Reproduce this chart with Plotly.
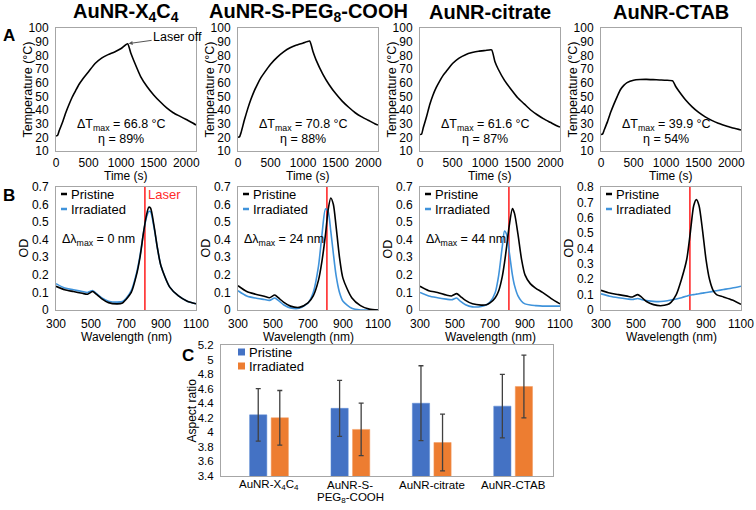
import plotly.graph_objects as go

W, H = 756, 510
FONT = "Liberation Sans, Arial, sans-serif"

# ---------------- data ----------------
panel_titles = ["AuNR-X<sub>4</sub>C<sub>4</sub>", "AuNR-S-PEG<sub>8</sub>-COOH", "AuNR-citrate", "AuNR-CTAB"]
dT_values = ["66.8", "70.8", "61.6", "39.9"]
eta_values = ["89%", "88%", "87%", "54%"]
dlambda_values = ["0", "24", "44", None]
LASER_NM = 808
LASER_OFF_T = 1100

time_s = [0, 25, 50, 100, 150, 200, 250, 300, 350, 400, 500, 600, 700, 800, 900, 1000, 1100,
          1150, 1200, 1300, 1400, 1500, 1600, 1700, 1800, 1900, 2000, 2100, 2150]
temp_x4c4 = [21, 21.5, 25, 31, 38, 44, 49.5, 54, 58.5, 62, 68, 74, 78, 80.5, 82.5, 85, 88.5,
             81.5, 75.5, 64.5, 57, 51, 46, 41.5, 38, 35.5, 33, 30.5, 29]
temp_peg = [20, 20.5, 24, 33, 41, 48, 54, 59, 63.5, 67, 73.5, 78.5, 82.5, 85.5, 87.5, 89, 90.5,
            83, 76.5, 66.5, 58.5, 52, 46.5, 42, 38, 35, 32.5, 30, 29]
temp_citrate = [22, 22.5, 27, 35, 44, 51, 56.5, 61, 65, 68, 74, 78, 80.5, 82, 83, 83.5, 84,
                75.5, 70, 61.5, 55, 49, 44.5, 40, 36.5, 33.5, 31, 28.5, 27.5]
temp_ctab = [22, 22.5, 25.5, 31.5, 38.5, 44.5, 50, 55, 58, 60, 61.8, 62.3, 62.4, 62.2, 62, 61.8, 61.3,
             57, 53.5, 47.3, 42.3, 38.2, 35, 32.4, 30.3, 28.7, 27.2, 26, 25.4]
temps = [temp_x4c4, temp_peg, temp_citrate, temp_ctab]

wl_x4c4 = [300, 350, 400, 450, 480, 510, 530, 560, 600, 650, 680, 700, 730, 760, 780, 800, 815, 830, 840,
           860, 880, 900, 950, 1000, 1050, 1100]
od_x4c4_pristine = [0.135, 0.115, 0.105, 0.095, 0.09, 0.105, 0.09, 0.065, 0.042, 0.035, 0.04, 0.06, 0.1,
                    0.2, 0.3, 0.44, 0.53, 0.585, 0.58, 0.48, 0.35, 0.25, 0.13, 0.08, 0.05, 0.035]
od_x4c4_irr = [0.15, 0.125, 0.115, 0.105, 0.1, 0.11, 0.095, 0.07, 0.05, 0.045, 0.048, 0.065, 0.11,
               0.21, 0.31, 0.44, 0.52, 0.56, 0.56, 0.47, 0.35, 0.25, 0.13, 0.08, 0.05, 0.035]

wl_peg = [300, 350, 400, 450, 480, 510, 530, 560, 600, 650, 700, 730, 760, 780, 800, 815, 830, 845, 860,
          880, 900, 950, 1000, 1050, 1100]
od_peg_pristine = [0.138, 0.105, 0.09, 0.078, 0.07, 0.085, 0.07, 0.045, 0.022, 0.015, 0.04, 0.08, 0.17,
                   0.28, 0.43, 0.57, 0.637, 0.6, 0.48, 0.3, 0.18, 0.07, 0.025, 0.005, 0.0]
od_peg_irr = [0.11, 0.08, 0.068, 0.06, 0.055, 0.068, 0.055, 0.03, 0.012, 0.01, 0.04, 0.1, 0.25, 0.43,
              0.575, 0.56, 0.45, 0.32, 0.2, 0.1, 0.05, 0.01, 0.0, 0.0, 0.0]

wl_cit = [300, 350, 400, 450, 480, 510, 530, 560, 600, 650, 680, 700, 730, 750, 770, 783, 795, 810, 828,
          840, 860, 880, 900, 930, 960, 1000, 1050, 1100]
od_cit_pristine = [0.135, 0.11, 0.1, 0.085, 0.08, 0.093, 0.078, 0.055, 0.035, 0.028, 0.03, 0.04, 0.07,
                   0.11, 0.19, 0.27, 0.36, 0.48, 0.577, 0.55, 0.43, 0.29, 0.2, 0.15, 0.125, 0.1, 0.065, 0.035]
od_cit_irr = [0.1, 0.08, 0.07, 0.062, 0.058, 0.068, 0.05, 0.03, 0.018, 0.02, 0.03, 0.045, 0.1, 0.2,
              0.36, 0.45, 0.43, 0.33, 0.2, 0.14, 0.08, 0.05, 0.035, 0.028, 0.025, 0.022, 0.022, 0.022]

wl_ctab = [300, 350, 400, 450, 480, 510, 530, 560, 600, 640, 680, 700, 730, 760, 790, 810, 830, 845, 860,
           880, 900, 920, 940, 960, 1000, 1050, 1100]
od_ctab_pristine = [0.128, 0.11, 0.1, 0.09, 0.085, 0.1, 0.085, 0.055, 0.035, 0.028, 0.035, 0.05, 0.1,
                    0.2, 0.33, 0.5, 0.68, 0.718, 0.68, 0.52, 0.33, 0.2, 0.13, 0.1, 0.085, 0.065, 0.037]
od_ctab_irr = [0.105, 0.09, 0.08, 0.072, 0.068, 0.075, 0.068, 0.062, 0.056, 0.055, 0.06, 0.065, 0.072,
               0.08, 0.09, 0.097, 0.1, 0.103, 0.106, 0.11, 0.114, 0.117, 0.121, 0.125, 0.133, 0.143, 0.155]

spectra = [
    (wl_x4c4, od_x4c4_pristine, od_x4c4_irr),
    (wl_peg, od_peg_pristine, od_peg_irr),
    (wl_cit, od_cit_pristine, od_cit_irr),
    (wl_ctab, od_ctab_pristine, od_ctab_irr),
]
od_max = [0.7, 0.7, 0.7, 0.8]

categories = ["AuNR-X4C4", "AuNR-S-PEG8-COOH", "AuNR-citrate", "AuNR-CTAB"]
category_labels = [["AuNR-X<sub>4</sub>C<sub>4</sub>"], ["AuNR-S-", "PEG<sub>8</sub>-COOH"],
                   ["AuNR-citrate"], ["AuNR-CTAB"]]
ar_pristine = [4.24, 4.33, 4.40, 4.36]
ar_pristine_err = [0.36, 0.385, 0.515, 0.435]
ar_irradiated = [4.20, 4.04, 3.86, 4.63]
ar_irradiated_err = [0.375, 0.36, 0.39, 0.43]
ar_ticks = [3.4, 3.6, 3.8, 4, 4.2, 4.4, 4.6, 4.8, 5, 5.2]
ar_ticktext = ["3.4", "3.6", "3.8", "4", "4.2", "4.4", "4.6", "4.8", "5", "5.2"]

# ---------------- styles ----------------
BLACK = "#000000"
BLUE_LINE = "#3F93DB"
RED = "#FF2A2A"
BAR_BLUE = "#4472C4"
BAR_ORANGE = "#ED7D31"
BOX = "#A6A6A6"


def px(x):
    return x / W


def py(y):
    return 1 - y / H


panel_left = [56, 238, 420, 601]
panel_w = 140
A_top, A_bot = 28, 151
B_top, B_bot = 187, 310
C_left, C_right, C_top, C_bot = 221, 553, 345, 476

fig = go.Figure()
layout = dict(
    width=W, height=H, margin=dict(l=0, r=0, t=0, b=0, autoexpand=False),
    paper_bgcolor="white", plot_bgcolor="white",
    showlegend=False,
    font=dict(family=FONT, size=12, color="#000000"),
    barmode="group", bargap=0.47, bargroupgap=0.2,
)
annotations = []
shapes = []


def ann(**kw):
    d = dict(showarrow=False, xanchor="center", yanchor="middle")
    d.update(kw)
    annotations.append(d)


def axis_common(size=12):
    return dict(showline=True, mirror=True, linecolor=BOX, linewidth=1, showgrid=False,
                zeroline=False, ticks="", tickfont=dict(family=FONT, size=size, color="#000"))


for i in range(4):
    l = panel_left[i]
    # ---- A panels ----
    ax_id = i + 1
    xa = axis_common()
    xa.update(domain=[px(l), px(l + panel_w)], range=[0, 2150], tickvals=[0, 500, 1000, 1500, 2000],
              anchor=f"y{ax_id}", ticklabelstandoff=1)
    ya = axis_common()
    ya.update(domain=[py(A_bot), py(A_top)], range=[10, 100], tickvals=list(range(10, 101, 10)),
              anchor=f"x{ax_id}", ticklabelstandoff=4)
    layout[f"xaxis{ax_id}" if ax_id > 1 else "xaxis"] = xa
    layout[f"yaxis{ax_id}" if ax_id > 1 else "yaxis"] = ya
    xr = f"x{ax_id}" if ax_id > 1 else "x"
    yr = f"y{ax_id}" if ax_id > 1 else "y"
    fig.add_trace(go.Scatter(x=time_s, y=temps[i], mode="lines", xaxis=xr, yaxis=yr,
                             line=dict(color=BLACK, width=1.6, shape="spline", smoothing=0.5)))
    ann(x=1000, y=28.8, xref=xr, yref=yr, text=f"ΔT<sub>max</sub> = {dT_values[i]} °C",
        font=dict(size=12.5, color="#000"))
    ann(x=1000, y=19, xref=xr, yref=yr, text=f"η = {eta_values[i]}", font=dict(size=12.5, color="#000"))
    # panel title
    ann(x=px(l + panel_w / 2), y=py(12), xref="paper", yref="paper",
        text=f"<b>{panel_titles[i]}</b>", font=dict(size=20, color="#000"))
    # axis titles
    ann(x=px(l + panel_w / 2), y=py(176), xref="paper", yref="paper", text="Time (s)",
        font=dict(size=12, color="#000"))
    ann(x=px(l - 29), y=py((A_top + A_bot) / 2), xref="paper", yref="paper", textangle=-90,
        text="Temperature (°C)", font=dict(size=12.5, color="#000"))

    # ---- B panels ----
    bx_id = i + 5
    xb = axis_common()
    xb.update(domain=[px(l), px(l + panel_w)], range=[300, 1100], tickvals=[300, 500, 700, 900, 1100],
              anchor=f"y{bx_id}", ticklabelstandoff=3)
    yb = axis_common()
    ymax = od_max[i]
    yb.update(domain=[py(B_bot), py(B_top)], range=[0, ymax],
              tickvals=[round(v * 0.1, 1) for v in range(0, int(round(ymax * 10)) + 1)],
              ticktext=["0"] + [f"{v * 0.1:.1f}" for v in range(1, int(round(ymax * 10)) + 1)],
              anchor=f"x{bx_id}", ticklabelstandoff=4)
    layout[f"xaxis{bx_id}"] = xb
    layout[f"yaxis{bx_id}"] = yb
    xr = f"x{bx_id}"
    yr = f"y{bx_id}"
    wl, odp, odi = spectra[i]
    fig.add_trace(go.Scatter(x=[LASER_NM, LASER_NM], y=[0, ymax], mode="lines", xaxis=xr, yaxis=yr,
                             line=dict(color=RED, width=1.6)))
    fig.add_trace(go.Scatter(x=wl, y=odi, mode="lines", xaxis=xr, yaxis=yr,
                             line=dict(color=BLUE_LINE, width=1.6, shape="spline", smoothing=0.7)))
    fig.add_trace(go.Scatter(x=wl, y=odp, mode="lines", xaxis=xr, yaxis=yr,
                             line=dict(color=BLACK, width=1.6, shape="spline", smoothing=0.7)))
    # legend (manual)
    for lab, col, yy in [("Pristine", BLACK, 194), ("Irradiated", BLUE_LINE, 209)]:
        shapes.append(dict(type="line", xref="paper", yref="paper", x0=px(l + 5), x1=px(l + 11),
                           y0=py(yy), y1=py(yy), line=dict(color=col, width=2.5)))
        ann(x=px(l + 13), y=py(yy), xref="paper", yref="paper", xanchor="left", text=lab,
            font=dict(size=13, color="#000"))
    if dlambda_values[i] is not None:
        ann(x=px(l + 4), y=0.4, xref="paper", yref=yr, xanchor="left",
            text=f"Δλ<sub>max</sub> = {dlambda_values[i]} nm", font=dict(size=12.5, color="#000"))
    ann(x=px(l + panel_w / 2), y=py(337), xref="paper", yref="paper", text="Wavelength (nm)",
        font=dict(size=12, color="#000"))
    ann(x=px(l - 33), y=py((B_top + B_bot) / 2), xref="paper", yref="paper", textangle=-90,
        text="OD", font=dict(size=12.5, color="#000"))

# Laser off arrow (panel A1)
annotations.append(dict(x=LASER_OFF_T, y=temp_x4c4[time_s.index(LASER_OFF_T)], xref="x", yref="y",
                        text="Laser off", showarrow=True, arrowhead=2, arrowsize=0.8, arrowwidth=1,
                        arrowcolor="#555", ax=50, ay=-7, font=dict(size=12.5, color="#000"),
                        standoff=1))
# Laser label (panel B1)
ann(x=LASER_NM, y=0.66, xref="x5", yref="y5", xanchor="left", text="Laser",
    font=dict(size=13, color=RED), xshift=1)

# ---- C panel ----
xc = axis_common()
xc.update(domain=[px(C_left), px(C_right)], type="category", range=[-0.59, 3.49], anchor="y9",
          showticklabels=False)
yc = axis_common(11.5)
yc.update(domain=[py(C_bot), py(C_top)], range=[3.4, 5.2], tickvals=ar_ticks, ticktext=ar_ticktext,
          anchor="x9", ticklabelstandoff=4)
layout["xaxis9"] = xc
layout["yaxis9"] = yc
fig.add_trace(go.Bar(x=categories, y=ar_pristine, xaxis="x9", yaxis="y9", marker_color=BAR_BLUE,
                     marker_line=dict(color="#5B8BD6", width=0.5),
                     error_y=dict(type="data", array=ar_pristine_err, color="#404040", thickness=1.3, width=2.5)))
fig.add_trace(go.Bar(x=categories, y=ar_irradiated, xaxis="x9", yaxis="y9", marker_color=BAR_ORANGE,
                     marker_line=dict(color="#F29B5F", width=0.5),
                     error_y=dict(type="data", array=ar_irradiated_err, color="#404040", thickness=1.3, width=2.5)))
for cat, lines in zip(categories, category_labels):
    for k, line in enumerate(lines):
        ann(x=cat, y=py(485 + 12.5 * k), xref="x9", yref="paper", text=line,
            font=dict(size=11.5, color="#000"))
for lab, col, yy in [("Pristine", BAR_BLUE, 352), ("Irradiated", BAR_ORANGE, 366)]:
    shapes.append(dict(type="rect", xref="paper", yref="paper", x0=px(238), x1=px(245),
                       y0=py(yy + 3.5), y1=py(yy - 3.5), fillcolor=col, line=dict(width=0)))
    ann(x=px(247), y=py(yy), xref="paper", yref="paper", xanchor="left", text=lab,
        font=dict(size=13, color="#000"))
ann(x=px(191), y=py((C_top + C_bot) / 2), xref="paper", yref="paper", textangle=-90,
    text="Aspect ratio", font=dict(size=12, color="#000"))

# panel letters
for letter, xx, yy in [("A", 9, 36), ("B", 9, 195), ("C", 188, 355)]:
    ann(x=px(xx), y=py(yy), xref="paper", yref="paper", text=f"<b>{letter}</b>",
        font=dict(size=17, color="#000"))

layout["annotations"] = annotations
layout["shapes"] = shapes
fig.update_layout(**layout)
fig.write_html("out.html")
